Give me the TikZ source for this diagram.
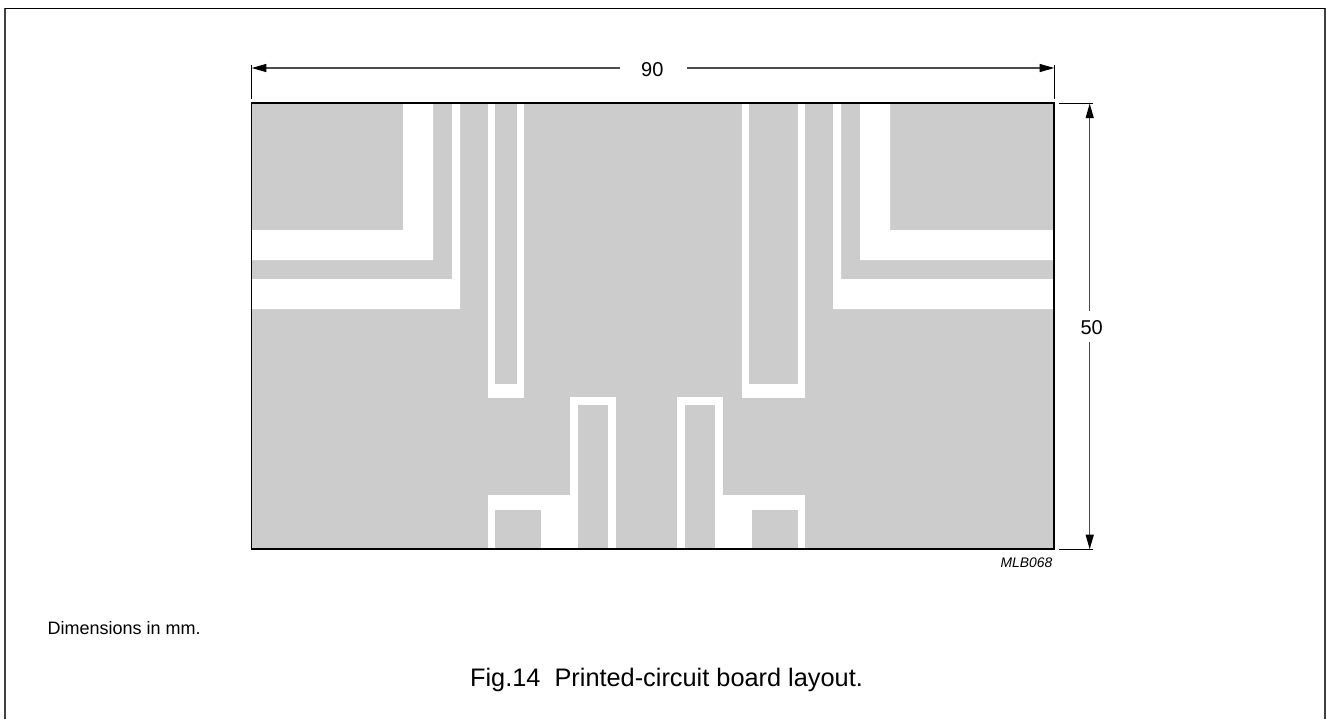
\documentclass[tikz,border=0pt]{standalone}
\usepackage{fontspec}
\setmainfont{Liberation Sans}
\usetikzlibrary{arrows.meta}
\tikzset{
  px/.style={x=0.75pt,y=-0.75pt},
  copper/.style={fill=black!20,draw=none},
  gap/.style={fill=white,draw=none},
  dimend/.style={line width=0.9pt,black!70,-{Triangle[length=11pt,width=6pt,black]}},
  tick/.style={line width=0.6pt},
  dimtext/.style={font=\fontsize{15}{18}\selectfont,inner sep=0pt},
  smalltext/.style={font=\fontsize{13.5}{16}\selectfont,inner sep=0pt}
}
\begin{document}
\begin{tikzpicture}[px]
      \useasboundingbox (0,0) rectangle (1326,719);
      \draw [line width=1.1pt,black!75] (5,719)--(5,8.7)--(1325,8.7)--(1325,719);
      \draw [line width=0.8pt] (5,8.7)--(1325,8.7);
      % board
      \fill [copper] (251.5,103.3) rectangle (1054.3,549.3);
      % left corner tracks
      \fill [gap] (251.5,230)--(403,230)--(403,103.3)--(433,103.3)--(433,260)--(251.5,260)--cycle;
      \fill [gap] (251.5,279)--(452,279)--(452,103.3)--(460,103.3)--(460,309)--(251.5,309)--cycle;
      % right corner tracks
      \fill [gap] (1054.3,230)--(890,230)--(890,103.3)--(860,103.3)--(860,260)--(1054.3,260)--cycle;
      \fill [gap] (1054.3,279)--(841,279)--(841,103.3)--(833,103.3)--(833,309)--(1054.3,309)--cycle;
      % upper slots
      \fill [gap] (487.5,103.3) rectangle (524,398.3);
      \fill [copper] (495,103.3) rectangle (516.7,383.7);
      \fill [gap] (742,103.3) rectangle (805,398.3);
      \fill [copper] (749.3,103.3) rectangle (797.7,383.7);
      % lower fingers
      \fill [gap] (570,397.3) rectangle (615.7,549.3);
      \fill [copper] (577.7,405) rectangle (608,549.3);
      \fill [gap] (677,397.3) rectangle (722.7,549.3);
      \fill [copper] (684.7,405) rectangle (715,549.3);
      % feet
      \fill [gap] (487.5,495.3) rectangle (570,549.3);
      \fill [copper] (495,510) rectangle (541,549.3);
      \fill [gap] (722.7,495.3) rectangle (805,549.3);
      \fill [copper] (751.7,510) rectangle (797.7,549.3);
      \draw [line width=1.4pt] (251.5,103.3) rectangle (1054.3,549.3);
      % dimensions
      \node (width)[dimtext] at (652.3,69.8){90};
      \node (height)[dimtext] at (1091.7,327.8){50};
      \coordinate (wl) at (251.7,68);
      \coordinate (wr) at (1054.3,68);
      \coordinate (wla) at (620,68);
      \coordinate (wra) at (687,68);
      \coordinate (ht) at (1089.7,103.5);
      \coordinate (hb) at (1089.7,549.3);
      \coordinate (hta) at (1089.7,310.7);
      \coordinate (hba) at (1089.7,342);
      \draw [dimend] (wla)--(wl);
      \draw [dimend] (wra)--(wr);
      \draw [dimend] (hta)--(ht);
      \draw [dimend] (hba)--(hb);
      \draw [tick] (251.7,65)--(251.7,99);
      \draw [tick] (1054.3,65)--(1054.3,99);
      \draw [tick] (1059,103.3)--(1093,103.3);
      \draw [tick] (1059,549.3)--(1093,549.3);
      % captions
      \node (code)[inner sep=0pt,font=\fontsize{10.4}{12}\selectfont\itshape] at (1026.5,563){MLB068};
      \node (units)[smalltext,anchor=base west] at (47.3,634.3){Dimensions in mm.};
      \node (title)[font=\fontsize{19}{22}\selectfont,inner sep=0pt,anchor=base] at (666.5,686){Fig.14\ \ Printed-circuit board layout.};
    \end{tikzpicture}
\end{document}
